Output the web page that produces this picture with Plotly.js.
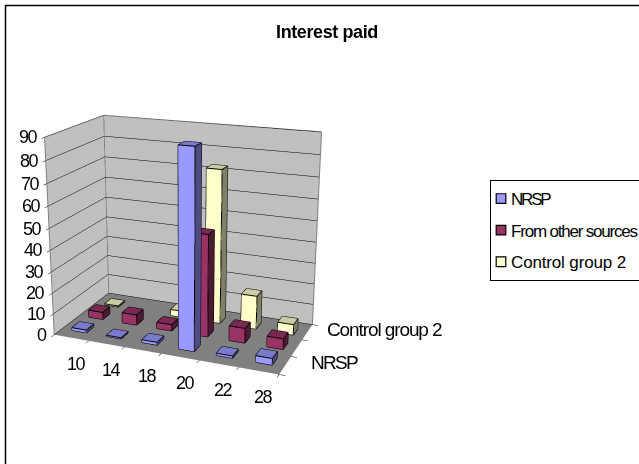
<!DOCTYPE html>
<html><head><meta charset="utf-8">
<script src="https://cdn.plot.ly/plotly-3.0.1.min.js"></script>
<style>
html,body{margin:0;padding:0;width:639px;height:464px;overflow:hidden;background:#fff}
#wrap{position:absolute;left:0;top:0;width:639px;height:464px;overflow:hidden}
#chart{position:absolute;left:0;top:-137px;width:670px;height:745px}
.legend .legendtext{transform:translateX(-20px)}
.legend .legendpoints{transform:translate(-6px,0) scale(.8)}
</style></head><body><div id="wrap"><div id="chart"></div></div>
<script>
const categories=['10','14','18','20','22','28'];
const seriesNames=['NRSP','From other sources','Control group 2'];
const nrsp=[1.3,0.5,1.3,90,1,3];
const fromOther=[3.5,5,3,48,7,5];
const controlGroup2=[0.5,0,3,73,16,5];
const zTicks=[0,10,20,30,40,50,60,70,80,90];
const seriesValues=[nrsp,fromOther,controlGroup2];
const frontColors=['#9999ff','#993366','#ffffcc'];
const topColors=['#7a7acc','#7a2952','#cccca3'];
const sideColors=['#4d4d80','#4d1a33','#808066'];
const legendSpacing=[-2.2,-1.2,-0.15];
const W=670,H=745,OFF=137;
const py=y=>1-(y+OFF)/H;
const spaced=(t,s)=>'<span style="letter-spacing:'+s+'px">'+t+'</span>';
const BW=0.21,BD=0.2;
const traces=[];
seriesValues.forEach((vals,s)=>{
  const X=[],Y=[],Z=[],I=[],J=[],K=[],FC=[];
  const ex=[],ey=[],ez=[];
  const yc=1.5+(s-1)*0.9;
  vals.forEach((v,c)=>{
    if(v<=0)return;
    const x0=c+.5-BW,x1=c+.5+BW,y0=yc-BD,y1=yc+BD,b=X.length;
    [[x0,y0,0],[x1,y0,0],[x1,y1,0],[x0,y1,0],[x0,y0,v],[x1,y0,v],[x1,y1,v],[x0,y1,v]].forEach(p=>{X.push(p[0]);Y.push(p[1]);Z.push(p[2]);});
    const quad=(a,q,r,t,col)=>{I.push(b+a,b+a);J.push(b+q,b+r);K.push(b+r,b+t);FC.push(col,col);};
    quad(0,1,5,4,frontColors[s]);
    quad(1,2,6,5,sideColors[s]);
    quad(4,5,6,7,topColors[s]);
    quad(0,3,7,4,sideColors[s]);
    quad(3,2,6,7,sideColors[s]);
    [[0,1],[1,5],[5,4],[4,0],[1,2],[2,6],[6,5],[6,7],[7,4]].forEach(e=>{
      ex.push(X[b+e[0]],X[b+e[1]],null);ey.push(Y[b+e[0]],Y[b+e[1]],null);ez.push(Z[b+e[0]],Z[b+e[1]],null);
    });
  });
  traces.push({type:'mesh3d',name:seriesNames[s],x:X,y:Y,z:Z,i:I,j:J,k:K,facecolor:FC,flatshading:true,
    lighting:{ambient:1,diffuse:0,specular:0,roughness:1,fresnel:0},showlegend:false,hoverinfo:'skip',showscale:false});
  traces.push({type:'scatter3d',mode:'lines',x:ex,y:ey,z:ez,line:{color:'#000',width:2},showlegend:false,hoverinfo:'skip'});
  traces.push({type:'bar',name:spaced(seriesNames[s],legendSpacing[s]),x:[categories[0]],y:[null],legendgroup:'g'+s,xaxis:'x',yaxis:'y',
    marker:{color:frontColors[s],line:{color:'#000',width:1.5}},hoverinfo:'skip'});
});
const nx=categories.length,ny=seriesNames.length,zm=zTicks[zTicks.length-1];
traces.push({type:'scatter3d',mode:'lines',showlegend:false,hoverinfo:'skip',line:{color:'#808080',width:2},
  x:[0,0,null,0,0,nx,nx,null,0,0],y:[0,0,null,0,ny,ny,ny,null,ny,ny],z:[0,zm,null,zm,zm,zm,0,null,0,zm]});
const ann=[];
const tf={size:18,color:'#000',family:'Liberation Sans'};
categories.forEach((c,i)=>ann.push({x:i+.5,y:0,z:0,text:spaced(c,-1.5),showarrow:false,yshift:-26,xshift:5,font:tf}));
zTicks.forEach(t=>ann.push({x:0,y:0,z:t,text:spaced(String(t),-1.5),showarrow:false,xanchor:'right',xshift:-5,font:tf}));
[[0,'NRSP',-1.7,24],[2,'Control group 2',-1.1,18]].forEach(a=>ann.push({x:nx,y:a[0]+.5,z:0,text:spaced(a[1],a[2]),showarrow:false,xanchor:'left',xshift:a[3],yshift:3,font:{size:19,color:'#000',family:'Liberation Sans'}}));
const axis=o=>Object.assign({showticklabels:false,showgrid:false,zeroline:false,showspikes:false,showline:false,ticks:'outside',ticklen:5,tickcolor:'#000',title:{text:''},showbackground:true},o);
const layout={width:W,height:H,margin:{l:0,r:0,t:0,b:0},paper_bgcolor:'rgba(0,0,0,0)',plot_bgcolor:'rgba(0,0,0,0)',
  font:{family:'Liberation Sans',size:17,color:'#000'},
  title:{text:'<b>'+spaced('Interest paid',-0.4)+'</b>',x:327/W,xanchor:'center',y:py(32),yanchor:'middle',font:{size:18}},
  xaxis:{visible:false,domain:[0,0.01]},yaxis:{visible:false,domain:[0,0.01]},
  scene:{domain:{x:[0,370/W],y:[0,1]},aspectmode:'manual',aspectratio:{x:1,y:.52,z:.86},
    camera:{projection:{type:'perspective'},eye:{x:1.345,y:-3.33,z:1.168},center:{x:0,y:0,z:0},up:{x:0,y:0,z:1}},
    xaxis:axis({range:[0,nx],tickvals:categories.map((c,i)=>i).concat(nx),backgroundcolor:'#c0c0c0'}),
    yaxis:axis({range:[0,ny],tickvals:[0,1,2,3],backgroundcolor:'#c0c0c0'}),
    zaxis:axis({range:[0,zm],tickvals:zTicks,showgrid:true,gridcolor:'#000',gridwidth:1,backgroundcolor:'#808080'}),
    annotations:ann},
  legend:{x:490/W,xanchor:'left',y:py(180),yanchor:'top',bordercolor:'#000',borderwidth:1,bgcolor:'#fff',tracegroupgap:6.5,font:{size:17},entrywidth:78,entrywidthmode:'pixels',traceorder:'grouped'},
  shapes:[{type:'rect',xref:'paper',yref:'paper',x0:5.5/W,x1:1.2,y0:-0.1,y1:py(5.5),line:{color:'#000',width:1.5}}]
};
Plotly.newPlot('chart',traces,layout,{displayModeBar:false,responsive:false});
</script></body></html>
